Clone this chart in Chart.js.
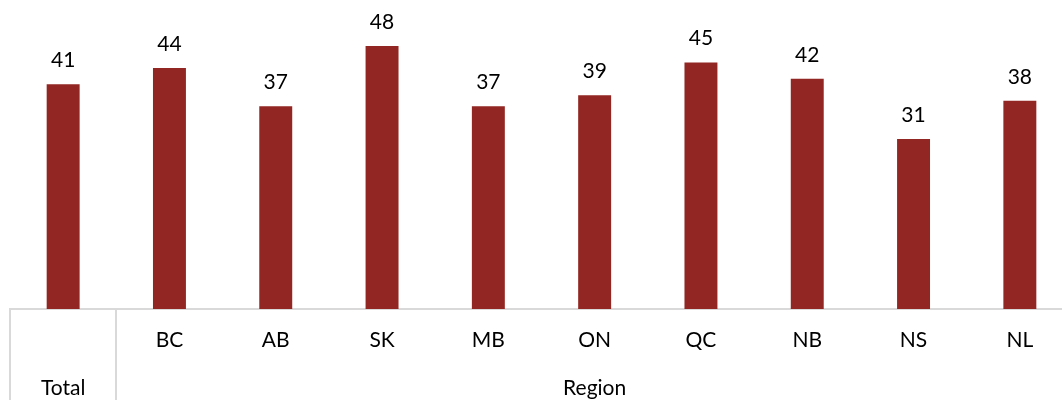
<!DOCTYPE html>
<html>
<head>
<meta charset="utf-8">
<script src="https://cdn.jsdelivr.net/npm/chart.js@4/dist/chart.umd.min.js"></script>
<style>
  html, body { margin: 0; padding: 0; background: #fff; overflow: hidden; }
  #wrap { width: 1073px; height: 400px; }
</style>
</head>
<body>
<div id="wrap"><canvas id="chart"></canvas></div>
<script>
// data
const categories = ['', 'BC', 'AB', 'SK', 'MB', 'ON', 'QC', 'NB', 'NS', 'NL'];
const values = [41, 44, 37, 48, 37, 39, 45, 42, 31, 38];
const groupNames = ['Total', 'Region'];
const groupStart = [0, 1];
const groupEnd = [0, 9];

const FONT = 'Lato';
const lineColor = '#d9d9d9';

// value labels over bars + second row of the category axis
const extras = {
  id: 'extras',
  afterDraw(chart) {
    const ctx = chart.ctx;
    const x = chart.scales.x;
    const area = chart.chartArea;
    const meta = chart.getDatasetMeta(0);
    ctx.save();
    ctx.fillStyle = '#000';
    ctx.font = '21px ' + FONT;
    ctx.textAlign = 'center';
    ctx.textBaseline = 'alphabetic';
    meta.data.forEach((bar, i) => {
      ctx.fillText(values[i], bar.x, bar.y - 17);
    });

    const half = (x.getPixelForValue(1) - x.getPixelForValue(0)) / 2;
    ctx.strokeStyle = lineColor;
    ctx.lineWidth = 2;
    groupNames.forEach((name, g) => {
      const left = x.getPixelForValue(groupStart[g]) - half;
      ctx.beginPath();
      ctx.moveTo(Math.round(left), area.bottom);
      ctx.lineTo(Math.round(left), chart.height);
      ctx.stroke();
      const mid = (x.getPixelForValue(groupStart[g]) + x.getPixelForValue(groupEnd[g])) / 2;
      ctx.textBaseline = 'middle';
      ctx.fillText(name, mid, area.bottom + 79);
    });
    ctx.restore();
  }
};

new Chart(document.getElementById('chart'), {
  type: 'bar',
  data: {
    labels: categories,
    datasets: [{
      data: values,
      backgroundColor: '#922622',
      categoryPercentage: 1,
      barPercentage: 0.31
    }]
  },
  options: {
    responsive: true,
    maintainAspectRatio: false,
    animation: false,
    layout: { padding: { top: 35, left: 10, right: 0, bottom: 0 } },
    plugins: { legend: { display: false }, tooltip: { enabled: false } },
    scales: {
      x: {
        grid: { display: false, drawTicks: false },
        border: { display: true, color: lineColor, width: 2 },
        ticks: { color: '#000', font: { family: FONT, size: 21 }, padding: 19, maxRotation: 0, autoSkip: false },
        afterFit(scale) { scale.height = 91; }
      },
      y: {
        display: false,
        min: 0,
        max: 50
      }
    }
  },
  plugins: [extras]
});
</script>
</body>
</html>
